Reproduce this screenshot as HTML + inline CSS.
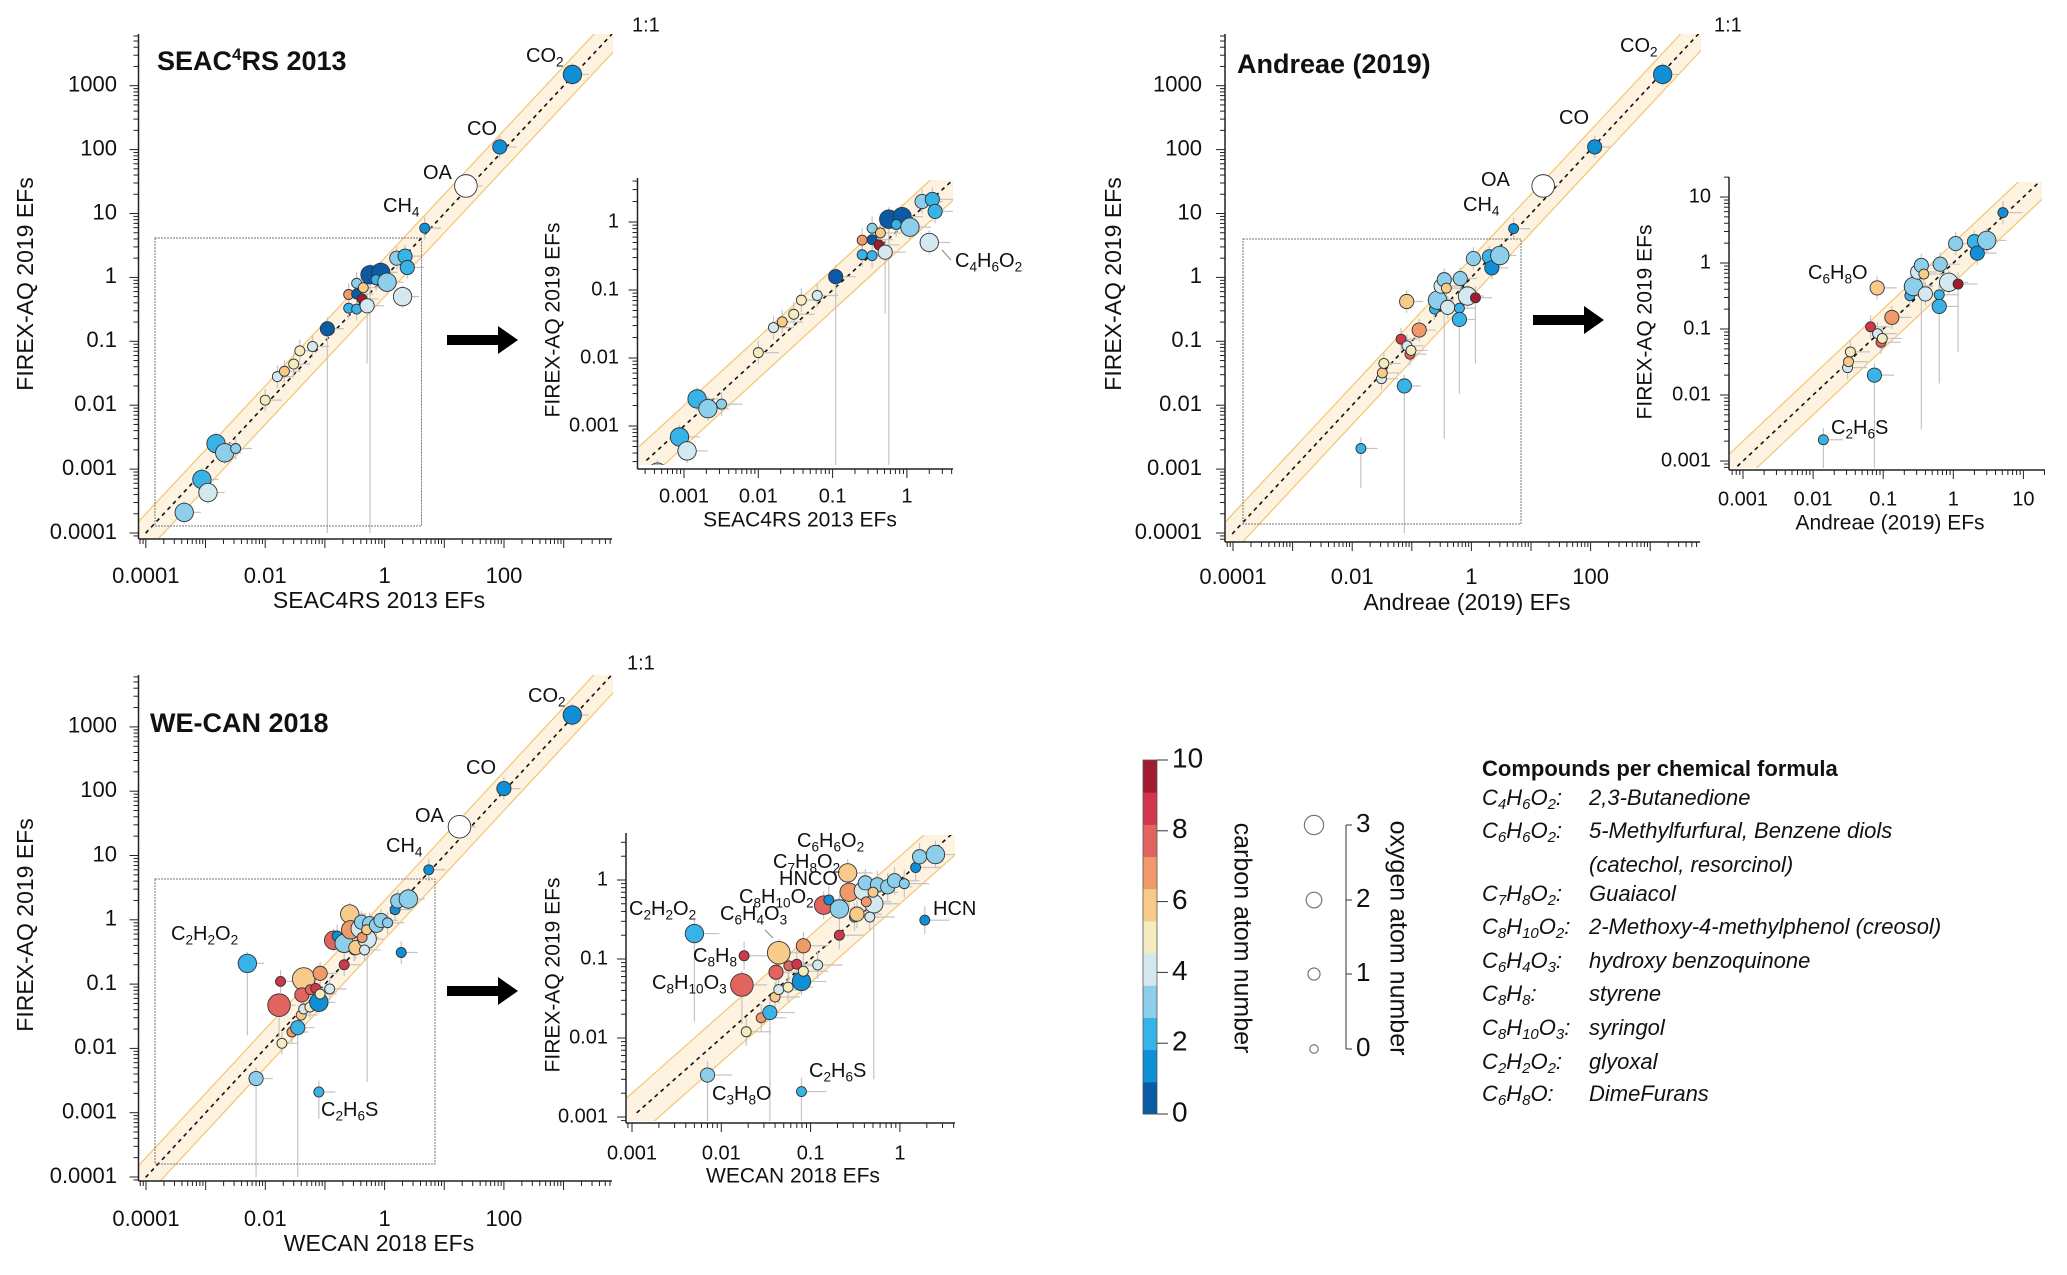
<!DOCTYPE html>
<html><head><meta charset="utf-8"><style>
body{margin:0;background:#fff}
svg text{font-family:"Liberation Sans",sans-serif;fill:#111}
</style></head><body>
<svg id="fig" width="2067" height="1270" viewBox="0 0 2067 1270" xmlns="http://www.w3.org/2000/svg">
<defs>
<clipPath id="cTLm"><rect x="139" y="34" width="474" height="505"/></clipPath>
<clipPath id="cTLi"><rect x="639" y="180" width="314" height="285"/></clipPath>
<clipPath id="cTRm"><rect x="1225" y="34" width="476" height="508"/></clipPath>
<clipPath id="cTRi"><rect x="1730" y="182" width="312" height="286"/></clipPath>
<clipPath id="cBLm"><rect x="139" y="675" width="474" height="506"/></clipPath>
<clipPath id="cBLi"><rect x="627" y="835" width="328" height="286"/></clipPath>
</defs>
</svg>
<script>
// ---------------- DATA ----------------
// SEAC4RS 2013 vs FIREX-AQ 2019
const seacX = [1400,85,23,4.7,0.00044,0.00087,0.0011,0.0015,0.0021,0.0032,0.010,0.016,0.021,0.030,0.038,0.062,0.11,0.25,0.25,0.34,0.34,0.34,0.44,0.42,0.51,0.57,0.86,0.72,1.1,1.6,2.2,2.4,2.0];
const seacY = [1500,110,27,5.9,0.00021,0.00069,0.00043,0.0025,0.0018,0.0021,0.012,0.028,0.034,0.044,0.071,0.083,0.157,0.54,0.33,0.81,0.55,0.32,0.69,0.46,0.36,1.1,1.2,0.92,0.84,2.0,2.15,1.43,0.5];
const seacC = [1,1,-1,1,3,2,4,2,3,3,5,4,6,5,5,4,0,7,2,3,0,2,6,10,4,0,0,2,3,3,2,2,4];
const seacO = [2,1,3,0,2,2,2,2,2,0,0,0,0,0,0,0,1,0,0,0,0,0,0,0,1,2,2,0,2,1,1,1,2];
const seacYlo = [null,null,null,null,null,null,null,null,null,null,null,null,null,null,null,null,0.0001,null,null,null,null,null,null,null,0.045,0.0001,null,null,null,null,null,null,null];
// Andreae (2019) vs FIREX-AQ 2019
const andX = [1620,117,16,5.1,0.014,0.075,0.031,0.032,0.034,0.066,0.083,0.093,0.097,0.133,0.082,0.24,0.25,0.27,0.27,0.31,0.35,0.38,0.40,0.63,0.63,0.65,0.86,1.17,1.08,2.0,2.2,3.0];
const andY = [1500,110,27,5.8,0.0021,0.020,0.026,0.032,0.045,0.108,0.085,0.063,0.072,0.15,0.42,0.32,0.44,0.45,0.44,0.73,0.92,0.68,0.34,0.33,0.22,0.96,0.51,0.48,1.97,2.1,1.41,2.2];
const andC = [1,1,-1,1,2,2,4,6,5,9,4,8,5,7,6,2,7,6,3,4,3,6,4,2,2,3,4,10,3,2,1,3];
const andO = [2,1,3,0,0,1,0,0,0,0,0,0,0,1,1,0,0,0,2,1,1,0,1,0,1,1,2,0,1,1,1,2];
const andYlo = [null,null,null,null,0.0005,0.0001,null,null,null,null,null,null,null,null,null,null,null,null,null,null,0.003,null,null,null,0.015,null,null,0.045,null,null,null,null];
// WE-CAN 2018 vs FIREX-AQ 2019
const wecX = [1400,100,18,5.5,0.005,0.007,0.079,0.018,0.017,0.044,0.019,0.028,0.035,0.040,0.044,0.056,0.041,0.057,0.070,0.079,0.083,0.083,0.12,0.21,0.14,0.16,0.21,0.26,0.27,0.31,0.33,0.39,0.41,0.51,0.42,0.46,0.56,0.50,0.73,0.87,1.12,1.5,1.66,2.5,1.9];
const wecY = [1530,110,28,6,0.21,0.0034,0.0021,0.11,0.047,0.12,0.012,0.018,0.021,0.033,0.041,0.044,0.068,0.082,0.086,0.052,0.070,0.147,0.084,0.2,0.48,0.56,0.43,1.23,0.70,0.34,0.37,0.73,0.92,0.50,0.53,0.34,0.87,0.70,0.82,0.98,0.9,1.44,1.97,2.1,0.31];
const wecC = [1,1,-1,1,2,3,2,9,8,6,5,7,2,6,4,5,8,8,9,1,5,7,4,9,8,1,3,6,7,2,6,4,3,4,7,4,3,6,3,3,3,1,3,3,1];
const wecO = [2,1,3,0,2,1,0,0,3,3,0,0,1,0,0,0,1,0,0,2,0,1,0,0,2,0,2,2,2,0,1,2,1,2,0,0,1,0,1,1,0,0,1,2,0];
const wecYlo = [null,null,null,null,0.016,0.0001,0.0008,null,0.015,null,null,null,0.0001,null,null,null,null,null,null,null,null,null,null,null,null,null,null,null,null,null,null,null,null,0.003,null,null,null,null,null,null,null,null,null,null,null];
// colour bands for carbon atom number 0..10
const carbonColors = ['#0b5aa6','#0e8fd6','#37b3e8','#8dcfeb','#d4e8f0','#f4ecbe','#f8cb8b','#f09a69','#e2645e','#d1374a','#a11a2e'];
const colorbarTicks = [0,2,4,6,8,10];
const oxygenTicks = [0,1,2,3];

// ---------------- HELPERS ----------------
const NS='http://www.w3.org/2000/svg';
const svg=document.getElementById('fig');
function el(tag,attrs,parent){const e=document.createElementNS(NS,tag);for(const k in attrs)e.setAttribute(k,attrs[k]);(parent||svg).appendChild(e);return e;}
function formula(t,str,fs){
  let sub=false;
  const parts=str.match(/[A-Za-z():,\s\-]+|\d+/g);
  parts.forEach(p=>{const isNum=/^\d+$/.test(p);const ts=el('tspan',{},t);
    if(isNum){ts.setAttribute('font-size',fs*0.68);ts.setAttribute('dy',sub?0:fs*0.28);sub=true;}
    else{ts.setAttribute('font-size',fs);ts.setAttribute('dy',sub?-fs*0.28:0);sub=false;}
    ts.textContent=p;});
}
function rad(o){return 5+2.1*o;}
function col(c){return c<0?'#ffffff':carbonColors[Math.min(10,c)];}

function panel(g,clip,X,Y,C,O,YLO,name){
  const lx=v=>Math.log10(v);
  const sx=v=>g.xa+(lx(v)-g.xl)*g.xd;
  const sy=v=>g.ya-(lx(v)-g.yl)*g.yd;
  const grp=el('g',{});
  
  
  const pg=el('g',{'clip-path':'url(#'+clip+')'},grp);
  const lmin=Math.min(g.xl+(g.left-g.xa)/g.xd, g.yl-(g.bottom-g.ya)/g.yd)-1;
  const lmax=Math.max(g.xl+(g.right-g.xa)/g.xd, g.yl+(g.ya-g.top)/g.yd)+1;
  const P=(l,f)=>[sx(Math.pow(10,l)),sy(Math.pow(10,l)*f)];
  const a=P(lmin,2),b=P(lmax,2),c=P(lmax,0.5),d=P(lmin,0.5);
  const band=el('polygon',{points:[a,b,c,d].map(p=>p.join(',')).join(' '),fill:'#fdf3e0'},pg);
  
  
  el('line',{x1:a[0],y1:a[1],x2:b[0],y2:b[1],stroke:'#f6c77b','stroke-width':1.3},pg);
  el('line',{x1:d[0],y1:d[1],x2:c[0],y2:c[1],stroke:'#f6c77b','stroke-width':1.3},pg);
  const l0=P(Math.max(lmin+1,g.xl+(g.left-g.xa)/g.xd+0.12),1),l1=P(lmax-1,1);
  const one=el('line',{x1:l0[0],y1:l0[1],x2:l1[0],y2:l1[1],stroke:'#111','stroke-width':1.6,'stroke-dasharray':'4,4'},pg);
  
  
  for(let i=0;i<X.length;i++){
    const x=sx(X[i]),y=sy(Y[i]);
    const lo=YLO[i]!=null?YLO[i]:Y[i]/1.5;
    el('line',{x1:x,y1:sy(lo),x2:x,y2:sy(Y[i]*1.5),stroke:'#c4c4c4','stroke-width':1.2},pg);
    el('line',{x1:x,y1:y,x2:sx(X[i]*1.9),y2:y,stroke:'#c4c4c4','stroke-width':1.2},pg);
  }
  for(let i=0;i<X.length;i++){
    const cc=el('circle',{cx:sx(X[i]),cy:sy(Y[i]),r:rad(O[i]),fill:col(C[i]),stroke:'#333','stroke-width':0.9},pg);
    
    
  }
  el('line',{x1:g.left,y1:g.bottom,x2:g.right,y2:g.bottom,stroke:'#222','stroke-width':1.5},grp);
  el('line',{x1:g.left,y1:g.top,x2:g.left,y2:g.bottom,stroke:'#222','stroke-width':1.5},grp);
  const xlo=g.xl+(g.left-g.xa)/g.xd, xhi=g.xl+(g.right-g.xa)/g.xd;
  const ylo=g.yl-(g.bottom-g.ya)/g.yd, yhi=g.yl+(g.ya-g.top)/g.yd;
  for(let dcd=Math.floor(xlo);dcd<=xhi;dcd++)for(let m=1;m<10;m++){
    const l=dcd+Math.log10(m);if(l<xlo||l>xhi)continue;const x=g.xa+(l-g.xl)*g.xd;
    el('line',{x1:x,y1:g.bottom,x2:x,y2:g.bottom+(m==1?9:5),stroke:'#222','stroke-width':1},grp);}
  for(let dcd=Math.floor(ylo);dcd<=yhi;dcd++)for(let m=1;m<10;m++){
    const l=dcd+Math.log10(m);if(l<ylo||l>yhi)continue;const y=g.ya-(l-g.yl)*g.yd;
    el('line',{x1:g.left,y1:y,x2:g.left-(m==1?9:5),y2:y,stroke:'#222','stroke-width':1},grp);}
  g.xticks.forEach(v=>{const t=el('text',{x:sx(v),y:g.xlabY,'text-anchor':'middle','dominant-baseline':'middle','font-size':g.fs},grp);t.textContent=String(v);
    });
  g.yticks.forEach(v=>{const t=el('text',{x:g.ylabX,y:sy(v),'text-anchor':'end','dominant-baseline':'middle','font-size':g.fs},grp);t.textContent=String(v);
    });
  const xt=el('text',{x:g.xtX,y:g.xtY,'text-anchor':'middle','dominant-baseline':'middle','font-size':g.fs+1},grp);xt.textContent=g.xtitle;
  
  const yt=el('text',{x:0,y:0,transform:'translate('+g.ytX+','+g.ytY+') rotate(-90)','text-anchor':'middle','dominant-baseline':'middle','font-size':g.fs+1},grp);yt.textContent='FIREX-AQ 2019 EFs';
  
}
function label(str,x,y,fs,name){const t=el('text',{x:x,y:y,'dominant-baseline':'middle','font-size':fs});formula(t,str,fs);
  return t;}
function arrow(x0,x1,y,name){const p=el('polygon',{points:`${x0},${y-5} ${x1-20},${y-5} ${x1-20},${y-14} ${x1},${y} ${x1-20},${y+14} ${x1-20},${y+5} ${x0},${y+5}`,fill:'#000'});
  }
function rect(x0,y0,x1,y1,name){const r=el('rect',{x:x0,y:y0,width:x1-x0,height:y1-y0,fill:'none',stroke:'#777','stroke-width':1,'stroke-dasharray':'2,1'});
  }
function oneToOne(x,y){const t=el('text',{x:x,y:y,'font-size':20,'dominant-baseline':'middle'});t.textContent='1:1';
  }

const mainTicksX=[0.0001,0.01,1,100], mainTicksY=[0.0001,0.001,0.01,0.1,1,10,100,1000];
const LF=20;
// ---- SEAC4RS ----
panel({xa:145.8,xl:-4,xd:59.7,ya:533,yl:-4,yd:63.9,left:138.5,right:612,top:34,bottom:539,xticks:mainTicksX,yticks:mainTicksY,xlabY:577,ylabX:117,fs:22,xtitle:'SEAC4RS 2013 EFs',xtX:379,xtY:602,ytX:27,ytY:284},'cTLm',seacX,seacY,seacC,seacO,seacYlo,'seac4rs-main-panel');
panel({xa:684,xl:-3,xd:74.3,ya:222,yl:0,yd:68,left:637.5,right:953,top:178,bottom:469,xticks:[0.001,0.01,0.1,1],yticks:[0.001,0.01,0.1,1],xlabY:497,ylabX:619,fs:20,xtitle:'SEAC4RS 2013 EFs',xtX:800,xtY:521,ytX:554,ytY:320},'cTLi',seacX,seacY,seacC,seacO,seacYlo,'seac4rs-inset-panel');
rect(155,238,421.5,526,'seac4rs-zoom-box');arrow(447,518,340,'seac4rs-zoom-arrow');
{const t=el('text',{x:157,y:70,'font-size':27,'font-weight':'bold'});t.innerHTML='SEAC<tspan dy="-10" font-size="17">4</tspan><tspan dy="10">RS 2013</tspan>';}
label('CO2',526,57,LF,'co2-label');label('CO',467,130,LF,'co-label');label('OA',423,174,LF,'oa-label');label('CH4',383,207,LF,'ch4-label');
oneToOne(632,26);
label('C4H6O2',955,262,LF,'c4h6o2-label');el('line',{x1:942,y1:250,x2:951,y2:260,stroke:'#888'});
// ---- Andreae ----
panel({xa:1233,xl:-4,xd:59.6,ya:533,yl:-4,yd:63.9,left:1225,right:1700,top:34,bottom:542,xticks:mainTicksX,yticks:mainTicksY,xlabY:578,ylabX:1202,fs:22,xtitle:'Andreae (2019) EFs',xtX:1467,xtY:604,ytX:1115,ytY:284},'cTRm',andX,andY,andC,andO,andYlo,'andreae-main-panel');
panel({xa:1743,xl:-3,xd:70.1,ya:263,yl:0,yd:66,left:1729,right:2045,top:177,bottom:470,xticks:[0.001,0.01,0.1,1,10],yticks:[0.001,0.01,0.1,1,10],xlabY:500,ylabX:1711,fs:20,xtitle:'Andreae (2019) EFs',xtX:1890,xtY:524,ytX:1646,ytY:322},'cTRi',andX,andY,andC,andO,andYlo,'andreae-inset-panel');
rect(1243,239,1521,524,'andreae-zoom-box');arrow(1533,1604,320,'andreae-zoom-arrow');
{const t=el('text',{x:1237,y:73,'font-size':27,'font-weight':'bold'});t.textContent='Andreae (2019)';}
label('CO2',1620,47,LF,'co2-label');label('CO',1559,119,LF,'co-label');label('OA',1481,181,LF,'oa-label');label('CH4',1463,206,LF,'ch4-label');
oneToOne(1714,26);
label('C6H8O',1808,274,LF,'c6h8o-label');label('C2H6S',1831,429,LF,'c2h6s-label');
// ---- WE-CAN ----
panel({xa:146,xl:-4,xd:59.65,ya:1177,yl:-4,yd:64.3,left:138.5,right:612,top:675,bottom:1181,xticks:mainTicksX,yticks:mainTicksY,xlabY:1220,ylabX:117,fs:22,xtitle:'WECAN 2018 EFs',xtX:379,xtY:1245,ytX:27,ytY:925},'cBLm',wecX,wecY,wecC,wecO,wecYlo,'wecan-main-panel');
panel({xa:632,xl:-3,xd:89.3,ya:880,yl:0,yd:79,left:626,right:955,top:833,bottom:1123,xticks:[0.001,0.01,0.1,1],yticks:[0.001,0.01,0.1,1],xlabY:1154,ylabX:608,fs:20,xtitle:'WECAN 2018 EFs',xtX:793,xtY:1177,ytX:554,ytY:975},'cBLi',wecX,wecY,wecC,wecO,wecYlo,'wecan-inset-panel');
rect(155,879,435,1164,'wecan-zoom-box');arrow(447,518,991,'wecan-zoom-arrow');
{const t=el('text',{x:150,y:732,'font-size':27,'font-weight':'bold'});t.textContent='WE-CAN 2018';}
label('CO2',528,697,LF,'co2-label');label('CO',466,769,LF,'co-label');label('OA',415,817,LF,'oa-label');label('CH4',386,847,LF,'ch4-label');
oneToOne(627,664);
label('C2H2O2',171,935,LF,'c2h2o2-label');label('C2H6S',321,1111,LF,'c2h6s-label');
[['C6H6O2',797,842],['C7H8O2',773,863],['HNCO',779,880],['C8H10O2',739,898],['C6H4O3',720,915],['C2H2O2',629,910],['C8H8',693,957],['C8H10O3',652,984],['C3H8O',712,1095],['C2H6S',809,1072],['HCN',933,910]].forEach(a=>label(a[0],a[1],a[2],LF,'inset-formula-label'));
el('line',{x1:765,y1:930,x2:773,y2:938,stroke:'#888'});
// ---- colour bar legend ----
{const g=el('g',{});
 const top=760,bot=1114,n=carbonColors.length,h=(bot-top)/n;
 carbonColors.forEach((c,i)=>el('rect',{x:1143,y:bot-(i+1)*h,width:14,height:h+0.5,fill:c},g));
 el('rect',{x:1143,y:top,width:14,height:bot-top,fill:'none',stroke:'#555','stroke-width':0.8},g);
 colorbarTicks.forEach(v=>{const y=bot-(v/10)*(bot-top);el('line',{x1:1157,y1:y,x2:1168,y2:y,stroke:'#333'},g);
  const t=el('text',{x:1172,y:y,'font-size':28,'dominant-baseline':'middle'},g);t.textContent=v;});
 const t=el('text',{x:0,y:0,transform:'translate(1241,938) rotate(90)','text-anchor':'middle','dominant-baseline':'middle','font-size':25},g);t.textContent='carbon atom number';}
{const g=el('g',{});
 const ys=[1049,974,900,825];
 el('line',{x1:1346,y1:825,x2:1346,y2:1049,stroke:'#333'},g);
 oxygenTicks.forEach((o,i)=>{el('circle',{cx:1314,cy:ys[i],r:rad(o)*0.85,fill:'#fff',stroke:'#777','stroke-width':1.2},g);
  el('line',{x1:1346,y1:ys[i],x2:1352,y2:ys[i],stroke:'#333'},g);
  const t=el('text',{x:1356,y:ys[i],'font-size':26,'dominant-baseline':'middle'},g);t.textContent=o;});
 const t=el('text',{x:0,y:0,transform:'translate(1397,938) rotate(90)','text-anchor':'middle','dominant-baseline':'middle','font-size':25},g);t.textContent='oxygen atom number';}
// ---- compound list ----
{const g=el('g',{});
 const tt=el('text',{x:1482,y:770,'font-size':22,'font-weight':'bold','dominant-baseline':'middle'},g);tt.textContent='Compounds per chemical formula';
 const rows=[['C4H6O2:','2,3-Butanedione',799],['C6H6O2:','5-Methylfurfural, Benzene diols',832],['','(catechol, resorcinol)',866],['C7H8O2:','Guaiacol',895],['C8H10O2:','2-Methoxy-4-methylphenol (creosol)',928],['C6H4O3:','hydroxy benzoquinone',962],['C8H8:','styrene',995],['C8H10O3:','syringol',1029],['C2H2O2:','glyoxal',1063],['C6H8O:','DimeFurans',1095]];
 rows.forEach(r=>{if(r[0]){const t=el('text',{x:1482,y:r[2],'dominant-baseline':'middle','font-style':'italic'},g);formula(t,r[0],22);}
  const t2=el('text',{x:1589,y:r[2],'font-size':22,'font-style':'italic','dominant-baseline':'middle'},g);t2.textContent=r[1];});}
</script>
</body></html>
